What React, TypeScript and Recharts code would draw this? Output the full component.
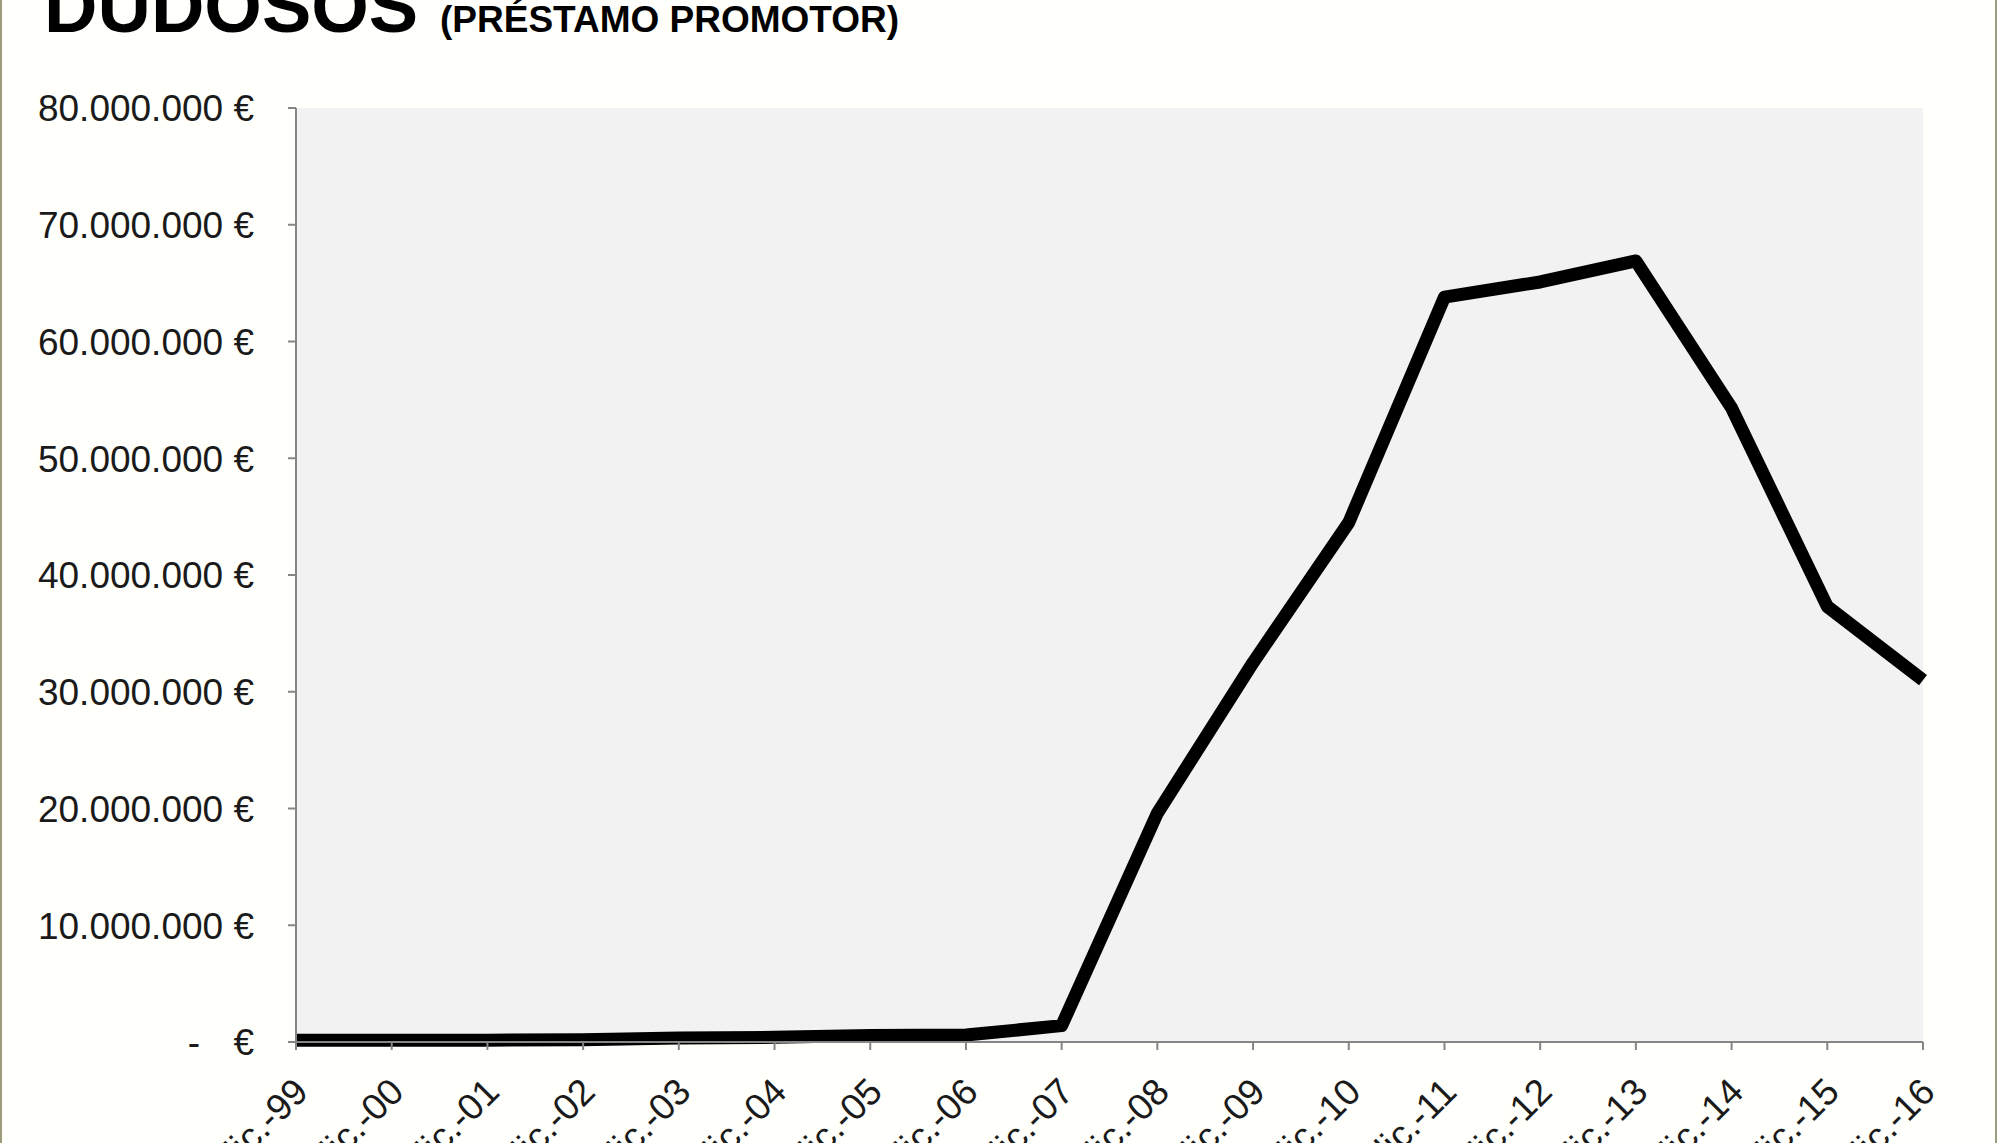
import { LineChart, Line, XAxis, YAxis, CartesianGrid } from "recharts";

const categories = [
  "dic.-99", "dic.-00", "dic.-01", "dic.-02", "dic.-03", "dic.-04",
  "dic.-05", "dic.-06", "dic.-07", "dic.-08", "dic.-09", "dic.-10",
  "dic.-11", "dic.-12", "dic.-13", "dic.-14", "dic.-15", "dic.-16",
];

// dudosos préstamo promotor (€)
const dudosos = [
  150000, 150000, 150000, 200000, 350000, 400000,
  550000, 600000, 1400000, 19600000, 32500000, 44500000,
  63800000, 65100000, 66900000, 54300000, 37300000, 31000000,
];

const yTicks = [0, 10000000, 20000000, 30000000, 40000000, 50000000, 60000000, 70000000, 80000000];

const data = categories.map((c, i) => ({ label: c, value: dudosos[i] }));

const FONT = '"Liberation Sans", Arial, sans-serif';

const fmt = (v: number) => String(v).replace(/\B(?=(\d{3})+(?!\d))/g, ".") + " €";

function YTick(props: any) {
  const { x, y, payload } = props;
  const v = payload.value;
  if (v === 0) {
    return (
      <g fontFamily={FONT} fontSize={37} fill="#1a1a1a">
        <text x={x} y={y} dy="0.36em" textAnchor="end">€</text>
        <text x={x - 54} y={y} dy="0.36em" textAnchor="end">-</text>
      </g>
    );
  }
  return (
    <text x={x} y={y} dy="0.36em" textAnchor="end" fontFamily={FONT} fontSize={37} fill="#1a1a1a">
      {fmt(v)}
    </text>
  );
}

function XTick(props: any) {
  const { x, y, payload } = props;
  const tx = x + 14;
  const ty = y + 44;
  return (
    <text
      x={tx}
      y={ty}
      textAnchor="end"
      transform={`rotate(-45, ${tx}, ${ty})`}
      fontFamily={FONT}
      fontSize={37}
      fill="#1a1a1a"
    >
      {payload.value}
    </text>
  );
}

export default function App() {
  return (
    <div
      style={{
        position: "absolute",
        left: 0,
        top: 0,
        width: 2000,
        height: 1143,
        overflow: "hidden",
        background: "#ffffff",
      }}
    >
      <div
        style={{
          position: "absolute",
          left: 0,
          top: 0,
          width: 1993,
          height: 1143,
          borderLeft: "2px solid #9c9c7c",
          borderRight: "2px solid #9c9c7c",
          background: "#fffffc",
        }}
      />
      <svg width={2000} height={120} style={{ position: "absolute", left: 0, top: 0 }}>
        <text x={44} y={32} fontFamily={FONT} fontWeight="bold" fontSize={74} fill="#000">
          DUDOSOS
        </text>
        <text x={440} y={32} fontFamily={FONT} fontWeight="bold" fontSize={37} fill="#000">
          (PRÉSTAMO PROMOTOR)
        </text>
      </svg>
      <div style={{ position: "absolute", left: 0, top: 0 }}>
        <LineChart
          width={2000}
          height={1143}
          data={data}
          margin={{ top: 108, right: 77, bottom: 0, left: 0 }}
        >
          <CartesianGrid horizontal={false} vertical={false} fill="#f2f2f2" />
          <XAxis
            dataKey="label"
            interval={0}
            height={101}
            tickSize={8}
            tickMargin={0}
            axisLine={{ stroke: "#868686", strokeWidth: 2 }}
            tickLine={{ stroke: "#868686", strokeWidth: 2 }}
            tick={<XTick />}
          />
          <YAxis
            width={296}
            domain={[0, 80000000]}
            ticks={yTicks}
            tickSize={8}
            tickMargin={34}
            axisLine={{ stroke: "#868686", strokeWidth: 2 }}
            tickLine={{ stroke: "#868686", strokeWidth: 2 }}
            tick={<YTick />}
          />
          <Line
            type="linear"
            dataKey="value"
            stroke="#000"
            strokeWidth={13}
            strokeLinejoin="round"
            dot={false}
            isAnimationActive={false}
          />
        </LineChart>
      </div>
    </div>
  );
}
